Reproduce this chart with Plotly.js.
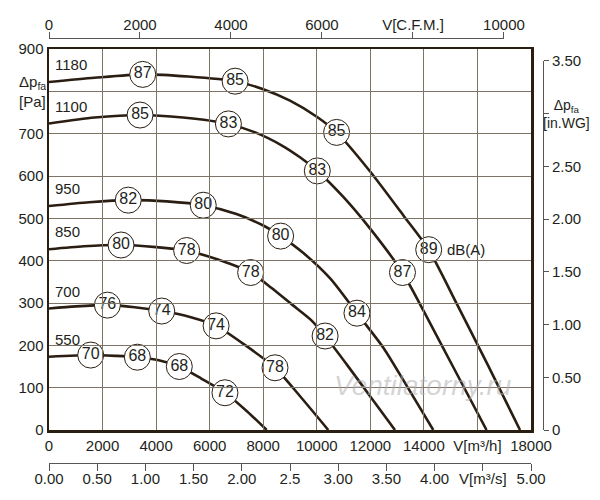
<!DOCTYPE html>
<html>
<head>
<meta charset="utf-8">
<script src="https://cdn.plot.ly/plotly-3.0.1.min.js"></script>
<style>html,body{margin:0;padding:0;background:#fff;}#chart{width:600px;height:500px;}</style>
</head>
<body>
<div id="chart"></div>
<script>
// ---- Data ----
const rpmLabels = ['1180', '1100', '950', '850', '700', '550'];

// fan curves: flow [m3/h], pressure [Pa]
const flow1180 = [0, 1700, 3500, 5200, 6950, 8000, 9000, 10000, 10740, 12000, 13255, 14180, 15220, 16400, 17590];
const dp1180   = [822, 832, 840, 835, 824, 805, 778, 740, 703, 610, 505, 426, 299, 152, 0];
const flow1100 = [0, 1700, 3400, 5000, 6700, 7700, 8700, 9400, 10020, 11000, 12000, 13200, 14000, 15000, 16340];
const dp1100   = [724, 738, 744, 738, 723, 703, 672, 643, 612, 550, 475, 372, 280, 160, 0];
const flow950  = [0, 1500, 2960, 4400, 5760, 7000, 8000, 8650, 9500, 10500, 11500, 12480, 13400, 14350];
const dp950    = [529, 538, 543, 540, 531, 510, 483, 458, 418, 358, 276, 195, 100, 0];
const flow850  = [0, 1300, 2690, 4000, 5140, 5900, 6700, 7530, 8300, 9100, 9800, 10310, 11200, 12080, 12920];
const dp850    = [427, 434, 437, 432, 424, 411, 394, 372, 336, 295, 259, 222, 148, 72, 0];
const flow700  = [0, 1000, 2180, 3200, 4210, 5265, 6240, 7380, 8440, 9400, 10430];
const dp700    = [287, 292, 295, 290, 281, 267, 246, 198, 147, 78, 0];
const flow550  = [0, 1557, 2500, 3300, 4100, 4866, 5700, 6570, 7380, 8130];
const dp550    = [173, 177, 175, 172, 165, 150, 121, 88, 45, 0];

// sound level bubbles: flow [m3/h], pressure [Pa], level [dB(A)]
const dbFlow1180 = [3500, 6950, 10740, 14180];
const dbDp1180   = [840, 824, 703, 426];
const db1180     = [87, 85, 85, 89];
const dbFlow1100 = [3400, 6700, 10020, 13200];
const dbDp1100   = [744, 723, 612, 372];
const db1100     = [85, 83, 83, 87];
const dbFlow950  = [2960, 5760, 8650, 11500];
const dbDp950    = [543, 531, 458, 276];
const db950      = [82, 80, 80, 84];
const dbFlow850  = [2690, 5140, 7530, 10310];
const dbDp850    = [437, 424, 372, 222];
const db850      = [80, 78, 78, 82];
const dbFlow700  = [2180, 4210, 6240, 8440];
const dbDp700    = [295, 281, 246, 147];
const db700      = [76, 74, 74, 78];
const dbFlow550  = [1557, 3300, 4866, 6570];
const dbDp550    = [177, 172, 150, 88];
const db550      = [70, 68, 68, 72];

// axis ticks
const m3hTicks = [0, 2000, 4000, 6000, 8000, 10000, 12000, 14000, 16000, 18000];
const m3hText  = ['0', '2000', '4000', '6000', '8000', '10000', '12000', '14000', 'V[m³/h]', '18000'];
const paTicks  = [0, 100, 200, 300, 400, 500, 600, 700, 800, 900];
const paText   = ['0', '100', '200', '300', '400', '500', '600', '700', '', '900'];
const cfmTicks = [0, 2000, 4000, 6000, 8000, 10000];
const cfmText  = ['0', '2000', '4000', '6000', 'V[C.F.M.]', '10000'];
const inwgTicks = [0, 0.5, 1, 1.5, 2, 2.5, 3, 3.5];
const inwgText  = ['0', '0.50', '1.00', '1.50', '2.00', '2.50', '', '3.50'];
const m3sTicks = [0, 0.5, 1, 1.5, 2, 2.5, 3, 3.5, 4, 4.5, 5];
const m3sText  = ['0.00', '0.50', '1.00', '1.50', '2.00', '2.5', '3.00', '3.50', '4.00', 'V[m³/s]', '5.00'];

// ---- Chart ----
const FONT = 'Liberation Sans, Arial, Helvetica, sans-serif';
const DARK = '#2a1e12';
const TXT = '#231f20';
const M3H_MAX = 18000, PA_MAX = 900;
const M3H_PER_CFM = 1.69901, PA_PER_INWG = 249.089, M3H_PER_M3S = 3600;

const curves = [
  [flow1180, dp1180], [flow1100, dp1100], [flow950, dp950],
  [flow850, dp850], [flow700, dp700], [flow550, dp550]
];
const bubbles = [
  [dbFlow1180, dbDp1180, db1180], [dbFlow1100, dbDp1100, db1100], [dbFlow950, dbDp950, db950],
  [dbFlow850, dbDp850, db850], [dbFlow700, dbDp700, db700], [dbFlow550, dbDp550, db550]
];

const traces = [];
// empty carrier traces so that the secondary scales exist as subplots
traces.push({x: [], y: [], xaxis: 'x2', yaxis: 'y', type: 'scatter', mode: 'lines', showlegend: false, hoverinfo: 'skip'});
traces.push({x: [], y: [], xaxis: 'x3', yaxis: 'y', type: 'scatter', mode: 'lines', showlegend: false, hoverinfo: 'skip'});
traces.push({x: [], y: [], xaxis: 'x', yaxis: 'y2', type: 'scatter', mode: 'lines', showlegend: false, hoverinfo: 'skip'});

curves.forEach(function (c) {
  traces.push({
    x: c[0], y: c[1], type: 'scatter', mode: 'lines', xaxis: 'x', yaxis: 'y',
    line: {color: DARK, width: 2.6, shape: 'spline', smoothing: 0.7},
    hoverinfo: 'skip', showlegend: false
  });
});
bubbles.forEach(function (b) {
  traces.push({
    x: b[0], y: b[1], type: 'scatter', mode: 'markers+text', xaxis: 'x', yaxis: 'y',
    text: b[2].map(String), textposition: 'middle center',
    textfont: {family: FONT, size: 16, color: TXT},
    marker: {size: 26, color: '#ffffff', line: {color: DARK, width: 1}},
    cliponaxis: false, hoverinfo: 'skip', showlegend: false
  });
});

// layout geometry (pixels)
const W = 600, H = 500;
const mL = 49, mR = 57, mT = 38, mB = 37;
const pw = W - mL - mR, ph = H - mT - mB;
const plotRight = 531, plotTop = 49, plotBottom = 430;
const xDomEnd = (plotRight - mL) / pw;
const yDom0 = (H - mB - plotBottom) / ph;
const yDom1 = (H - mB - plotTop) / ph;
const cfmMax = M3H_MAX / M3H_PER_CFM;
const inwgMax = PA_MAX / PA_PER_INWG;

const annotations = [];
curves.forEach(function (c, i) {
  annotations.push({
    x: c[0][0], y: c[1][0], xref: 'x', yref: 'y', text: rpmLabels[i],
    showarrow: false, xanchor: 'left', yanchor: 'bottom', xshift: 4, yshift: 7,
    font: {family: FONT, size: 15, color: TXT}
  });
});
annotations.push({
  x: dbFlow1180[3], y: dbDp1180[3], xref: 'x', yref: 'y', text: 'dB(A)',
  showarrow: false, xanchor: 'left', yanchor: 'middle', xshift: 16,
  font: {family: FONT, size: 15, color: TXT}
});
annotations.push({
  x: (17 - mL) / pw, y: 800, xref: 'paper', yref: 'y',
  text: 'Δp<sub>fa</sub><br>[Pa]', showarrow: false, xanchor: 'left', yanchor: 'middle', align: 'left',
  font: {family: FONT, size: 15, color: TXT}
});
annotations.push({
  x: (566 - mL) / pw, y: 3, xref: 'paper', yref: 'y2',
  text: 'Δp<sub>fa</sub><br>[in.WG]', showarrow: false, xanchor: 'center', yanchor: 'middle', align: 'center',
  font: {family: FONT, size: 14, color: TXT}
});
annotations.push({
  x: (423 - mL) / pw, y: (H - mB - 385) / ph, xref: 'paper', yref: 'paper',
  text: 'Ventilatorny.ru', showarrow: false, xanchor: 'center', yanchor: 'middle',
  font: {family: FONT, size: 28, color: 'rgba(170,170,170,0.5)', style: 'italic'}
});

const layout = {
  width: W, height: H,
  margin: {l: mL, r: mR, t: mT, b: mB, pad: 0},
  paper_bgcolor: '#ffffff', plot_bgcolor: 'rgba(0,0,0,0)',
  showlegend: false,
  font: {family: FONT, size: 15, color: TXT},
  xaxis: {
    domain: [0, xDomEnd], range: [0, M3H_MAX], anchor: 'y',
    tickmode: 'array', tickvals: m3hTicks, ticktext: m3hText, ticks: '',
    showgrid: true, gridcolor: '#7d7468', gridwidth: 1, zeroline: false,
    showline: true, linecolor: DARK, linewidth: 2.5, mirror: true,
    tickfont: {family: FONT, size: 15, color: TXT}, automargin: false, fixedrange: true
  },
  yaxis: {
    domain: [yDom0, yDom1], range: [0, PA_MAX], anchor: 'x',
    tickmode: 'array', tickvals: paTicks, ticktext: paText, ticks: '',
    showgrid: true, gridcolor: '#7d7468', gridwidth: 1, zeroline: false,
    showline: true, linecolor: DARK, linewidth: 2.5, mirror: true,
    tickfont: {family: FONT, size: 15, color: TXT}, automargin: false, fixedrange: true
  },
  xaxis2: {
    domain: [0, xDomEnd * (10000 / cfmMax)], range: [0, 10000],
    anchor: 'free', position: 1, side: 'top',
    tickmode: 'array', tickvals: cfmTicks, ticktext: cfmText,
    ticks: 'outside', ticklen: 6, tickcolor: '#555', tickwidth: 1, ticklabelstandoff: -4,
    showgrid: false, zeroline: false, showline: true, linecolor: '#555', linewidth: 1,
    tickfont: {family: FONT, size: 15, color: TXT}, automargin: false, fixedrange: true
  },
  xaxis3: {
    domain: [0, xDomEnd], range: [0, M3H_MAX / M3H_PER_M3S],
    anchor: 'free', position: 0, side: 'bottom',
    tickmode: 'array', tickvals: m3sTicks, ticktext: m3sText,
    ticks: 'outside', ticklen: 7, tickcolor: '#555', tickwidth: 1, ticklabelstandoff: -5,
    showgrid: false, zeroline: false, showline: true, linecolor: '#555', linewidth: 1,
    tickfont: {family: FONT, size: 15, color: TXT}, automargin: false, fixedrange: true
  },
  yaxis2: {
    domain: [yDom0, yDom0 + (yDom1 - yDom0) * (3.5 / inwgMax)], range: [0, 3.5],
    anchor: 'free', position: 1, side: 'right',
    tickmode: 'array', tickvals: inwgTicks, ticktext: inwgText,
    ticks: 'outside', ticklen: 5, tickcolor: '#555', tickwidth: 1,
    showgrid: false, zeroline: false, showline: true, linecolor: '#555', linewidth: 1,
    tickfont: {family: FONT, size: 15, color: TXT}, automargin: false, fixedrange: true
  },
  annotations: annotations
};

Plotly.newPlot('chart', traces, layout, {staticPlot: true, displayModeBar: false});
</script>
</body>
</html>
